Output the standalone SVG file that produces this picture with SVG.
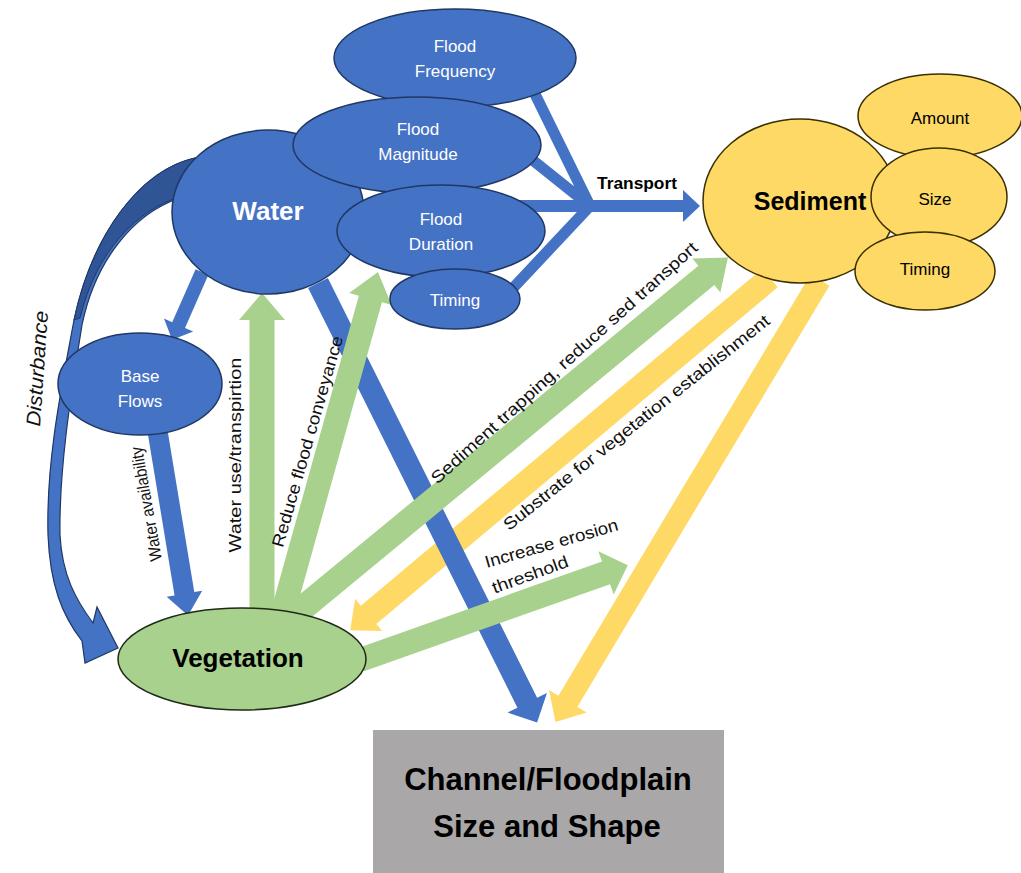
<svg xmlns="http://www.w3.org/2000/svg" width="1021" height="873" viewBox="0 0 1021 873">
<style>
.blue{fill:#4472C4;stroke:#1F3864;stroke-width:1.5}
.yel{fill:#FFD966;stroke:#3a3000;stroke-width:1.5}
.grn{fill:#A9D18E;stroke:#1e2a14;stroke-width:1.5}
.ab{fill:#4472C4}
.ag{fill:#A9D18E}
.ay{fill:#FFD966}
.fan{stroke:#4472C4;stroke-width:11;fill:none}
text{font-family:"Liberation Sans",Arial,sans-serif}
.wt{fill:#fff;font-size:17px;text-anchor:middle}
.bt{fill:#000;font-size:17px;text-anchor:middle}
.lbl{fill:#111;font-size:17px;text-anchor:middle}
</style>
<rect width="1021" height="873" fill="#fff"/>
<g id="connectors">
  <path class="fan" d="M532,88 L590,206 M530,158 L590,206 M514,287 L590,206"/>
  <path class="ab" d="M480,200 L683,200 L683,190 L700,206 L683,222 L683,212 L480,212 Z"/>
  <path fill="#4472C4" stroke="#1F3864" stroke-width="1.2" d="M195,158 C140,170 92,235 74,320 C62,385 46,460 48,535 C50,585 62,615 82,641 L85,663 L118,648 L97,607 L93,623 C76,600 62,575 60,535 C59,470 70,400 82,325 C95,262 132,214 180,198 Z"/>
  <path fill="#2F5597" stroke="#1F3864" stroke-width="1" d="M195,158 C140,170 92,235 74,320 L80,318 C96,252 136,210 182,196 Z"/>
  <path class="ab" transform="translate(202,272) rotate(113.8)" d="M0,-7 L58,-7 L58,-16 L74,0 L58,16 L58,7 L0,7 Z"/>
  <path class="ab" transform="translate(157,428) rotate(80.6)" d="M0,-10 L168,-10 L168,-18 L190,0 L168,18 L168,10 L0,10 Z"/>
  <path class="ay" transform="translate(770,278) rotate(140)" d="M0,-12 L524,-12 L524,-21 L548,0 L524,21 L524,12 L0,12 Z"/>
  <path class="ay" transform="translate(820,280) rotate(120.9)" d="M0,-11 L491,-11 L491,-22 L515,0 L491,22 L491,11 L0,11 Z"/>
  <path class="ab" transform="translate(318,283) rotate(63.5)" d="M0,-11 L469,-11 L469,-22 L491,0 L469,22 L469,11 L0,11 Z"/>
  <path class="ag" transform="translate(262,612) rotate(-90)" d="M0,-12.5 L292,-12.5 L292,-23 L319,0 L292,23 L292,12.5 L0,12.5 Z"/>
  <path class="ag" transform="translate(283,612) rotate(-74.4)" d="M0,-12 L325,-12 L325,-22 L353,0 L325,22 L325,12 L0,12 Z"/>
  <path class="ag" transform="translate(292,617) rotate(-39.5)" d="M0,-12.5 L537,-12.5 L537,-22 L565,0 L537,22 L537,12.5 L0,12.5 Z"/>
  <path class="ag" transform="translate(360,660) rotate(-19.5)" d="M0,-12 L261,-12 L261,-23 L284,0 L261,23 L261,12 L0,12 Z"/>
  <text x="637" y="189" style="font-size:16px;font-weight:bold;fill:#000;text-anchor:middle" textLength="80" lengthAdjust="spacingAndGlyphs">Transport</text>
  <text transform="translate(44,369) rotate(-86)" style="font-size:20px;font-style:italic;fill:#111;text-anchor:middle" textLength="116" lengthAdjust="spacingAndGlyphs">Disturbance</text>
  <text transform="translate(152,503) rotate(-100)" class="lbl" textLength="116" lengthAdjust="spacingAndGlyphs">Water availability</text>
  <text transform="translate(241,455) rotate(-90)" class="lbl" textLength="195" lengthAdjust="spacingAndGlyphs">Water use/transpirtion</text>
  <text transform="translate(313,443) rotate(-74)" class="lbl" textLength="219" lengthAdjust="spacingAndGlyphs">Reduce flood conveyance</text>
  <text transform="translate(568,367) rotate(-42)" class="lbl" textLength="352" lengthAdjust="spacingAndGlyphs">Sediment trapping, reduce sed transport</text>
  <text transform="translate(640,427) rotate(-38.5)" class="lbl" textLength="335" lengthAdjust="spacingAndGlyphs">Substrate for vegetation establishment</text>
  <text transform="translate(553,549) rotate(-16)" class="lbl" textLength="138" lengthAdjust="spacingAndGlyphs">Increase erosion</text>
  <text transform="translate(532,580) rotate(-20)" class="lbl" textLength="80" lengthAdjust="spacingAndGlyphs">threshold</text>
</g>
<g id="flood-frequency">
  <ellipse class="blue" cx="455" cy="58" rx="121" ry="49"/>
  <text class="wt" x="455" y="52">Flood</text>
  <text class="wt" x="455" y="77">Frequency</text>
</g>
<g id="water">
  <ellipse class="blue" cx="268" cy="212" rx="96" ry="82"/>
  <text x="268" y="220" style="fill:#fff;font-size:26px;font-weight:bold;text-anchor:middle">Water</text>
</g>
<g id="flood-magnitude">
  <ellipse class="blue" cx="417" cy="145" rx="124" ry="48"/>
  <text class="wt" x="418" y="135">Flood</text>
  <text class="wt" x="418" y="160">Magnitude</text>
</g>
<g id="flood-duration">
  <ellipse class="blue" cx="441" cy="231" rx="104" ry="46"/>
  <text class="wt" x="441" y="225">Flood</text>
  <text class="wt" x="441" y="250">Duration</text>
</g>
<g id="timing-water">
  <ellipse class="blue" cx="455" cy="299" rx="65" ry="30"/>
  <text class="wt" x="455" y="306">Timing</text>
</g>
<g id="base-flows">
  <ellipse class="blue" cx="140" cy="384" rx="82" ry="51"/>
  <text class="wt" x="140" y="382">Base</text>
  <text class="wt" x="140" y="407">Flows</text>
</g>
<g id="sediment">
  <ellipse class="yel" cx="800" cy="201" rx="97" ry="82"/>
  <text x="810" y="210" style="fill:#000;font-size:25px;font-weight:bold;text-anchor:middle">Sediment</text>
</g>
<g id="amount">
  <ellipse class="yel" cx="940" cy="116" rx="82" ry="42"/>
  <text class="bt" x="940" y="124">Amount</text>
</g>
<g id="size">
  <ellipse class="yel" cx="939" cy="197" rx="68" ry="49"/>
  <text class="bt" x="935" y="205">Size</text>
</g>
<g id="timing-sediment">
  <ellipse class="yel" cx="925" cy="271" rx="70" ry="39"/>
  <text class="bt" x="925" y="275">Timing</text>
</g>
<g id="vegetation">
  <ellipse class="grn" cx="242" cy="659" rx="124" ry="51"/>
  <text x="238" y="667" style="fill:#000;font-size:26px;font-weight:bold;text-anchor:middle">Vegetation</text>
</g>
<g id="channel">
  <rect x="373" y="730" width="351" height="143" fill="#A9A7A7"/>
  <text x="548" y="790" style="fill:#000;font-size:31px;font-weight:bold;text-anchor:middle">Channel/Floodplain</text>
  <text x="547" y="837" style="fill:#000;font-size:31px;font-weight:bold;text-anchor:middle">Size and Shape</text>
</g>
</svg>
